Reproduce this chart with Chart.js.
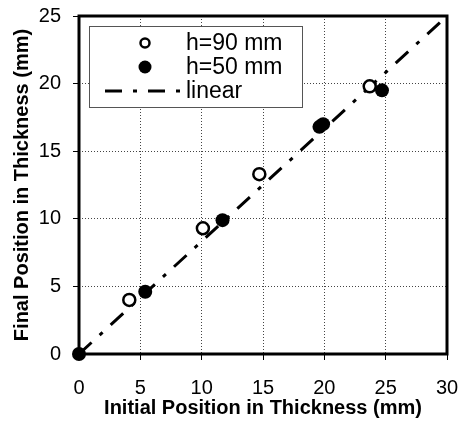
<!DOCTYPE html>
<html lang="en">
<head>
    <meta charset="UTF-8">
    <title>Final vs Initial Position</title>
    <script src="https://cdn.jsdelivr.net/npm/chart.js"></script>
    <style>
        body {
            margin: 0;
            padding: 0;
            background: #ffffff;
        }
        .wrap {
            width: 461px;
            height: 421px;
        }
    </style>
</head>
<body>
    <div class="wrap">
        <canvas id="posChart" width="461" height="421"></canvas>
    </div>

    <script>
        // h=90 mm (open circles)
        const h90X = [4.1, 10.1, 14.7, 23.7];
        const h90Y = [4.0, 9.3, 13.3, 19.8];
        // h=50 mm (filled circles)
        const h50X = [0, 5.4, 11.7, 19.6, 19.9, 24.7];
        const h50Y = [0, 4.6, 9.9, 16.8, 17.0, 19.5];
        // linear reference
        const linearX = [0, 30];
        const linearY = [0, 25];

        const xTicks = [0, 5, 10, 15, 20, 25, 30];
        const yTicks = [0, 5, 10, 15, 20, 25];

        const legendItems = ['h=90 mm', 'h=50 mm', 'linear'];

        const fontFam = "'Liberation Sans', Arial, Helvetica, sans-serif";
        const lineDash = [17, 11, 4, 11];

        function pts(xs, ys) {
            return xs.map((x, i) => ({ x: x, y: ys[i] }));
        }

        // thick frame + legend box
        const framePlugin = {
            id: 'frame',
            afterDraw(chart) {
                const c = chart.ctx;
                const a = chart.chartArea;
                c.save();
                c.strokeStyle = '#000';
                c.lineWidth = 3;
                c.strokeRect(a.left, a.top, a.right - a.left, a.bottom - a.top);

                // legend
                const lx = 89, ly = 26, lw = 213, lh = 81;
                c.fillStyle = '#fff';
                c.fillRect(lx, ly, lw, lh);
                c.lineWidth = 1;
                c.strokeStyle = '#555';
                c.strokeRect(lx + 0.5, ly + 0.5, lw, lh);

                const rows = [43, 67, 91];
                c.font = '23px ' + fontFam;
                c.fillStyle = '#000';
                c.textBaseline = 'middle';
                c.textAlign = 'left';

                // open circle
                c.beginPath();
                c.arc(145, rows[0], 4.5, 0, Math.PI * 2);
                c.fillStyle = '#fff';
                c.fill();
                c.lineWidth = 2.5;
                c.strokeStyle = '#000';
                c.stroke();
                // filled circle
                c.beginPath();
                c.arc(145, rows[1], 6.5, 0, Math.PI * 2);
                c.fillStyle = '#000';
                c.fill();
                // dash-dot line
                c.beginPath();
                c.setLineDash(lineDash);
                c.lineWidth = 3;
                c.moveTo(105, rows[2]);
                c.lineTo(183, rows[2]);
                c.stroke();
                c.setLineDash([]);

                c.fillStyle = '#000';
                c.fillText(legendItems[0], 186, rows[0] + 1);
                c.fillText(legendItems[1], 186, rows[1] + 1);
                c.fillText(legendItems[2], 186, rows[2] + 1);
                c.restore();
            }
        };

        const gridOpts = {
            color: '#444',
            lineWidth: 1,
            tickColor: '#000',
            tickLength: 6,
            tickBorderDash: []
        };

        const ctx = document.getElementById('posChart').getContext('2d');
        const posChart = new Chart(ctx, {
            type: 'scatter',
            data: {
                datasets: [
                    {
                        label: 'linear',
                        type: 'line',
                        data: pts(linearX, linearY),
                        borderColor: '#000',
                        borderWidth: 3,
                        borderDash: lineDash,
                        pointRadius: 0,
                        fill: false,
                        order: 3
                    },
                    {
                        label: legendItems[0],
                        data: pts(h90X, h90Y),
                        pointRadius: 6,
                        pointBorderWidth: 2.5,
                        pointBackgroundColor: '#fff',
                        pointBorderColor: '#000',
                        clip: false,
                        order: 2
                    },
                    {
                        label: legendItems[1],
                        data: pts(h50X, h50Y),
                        pointRadius: 7,
                        pointBorderWidth: 0,
                        pointBackgroundColor: '#000',
                        pointBorderColor: '#000',
                        clip: false,
                        order: 1
                    }
                ]
            },
            options: {
                responsive: false,
                animation: false,
                events: [],
                layout: { padding: { top: 16, right: 14, left: 0, bottom: 0 } },
                plugins: {
                    legend: { display: false },
                    tooltip: { enabled: false }
                },
                scales: {
                    x: {
                        type: 'linear',
                        min: 0,
                        max: 30,
                        afterFit(scale) {
                            scale.height = 67;
                            scale.paddingLeft = 0;
                            scale.paddingRight = 0;
                        },
                        afterBuildTicks(scale) { scale.ticks = xTicks.map(v => ({ value: v })); },
                        grid: gridOpts,
                        border: { display: false, dash: [1, 2] },
                        ticks: {
                            color: '#000',
                            padding: 16,
                            font: { family: fontFam, size: 20 }
                        },
                        title: {
                            display: true,
                            text: 'Initial Position in Thickness (mm)',
                            color: '#000',
                            padding: { top: 0, bottom: 1 },
                            font: { family: fontFam, size: 20, weight: 'bold' }
                        }
                    },
                    y: {
                        type: 'linear',
                        min: 0,
                        max: 25,
                        afterFit(scale) {
                            scale.width = 79;
                            scale.paddingTop = 0;
                            scale.paddingBottom = 0;
                        },
                        afterBuildTicks(scale) { scale.ticks = yTicks.map(v => ({ value: v })); },
                        grid: gridOpts,
                        border: { display: false, dash: [1, 2] },
                        ticks: {
                            color: '#000',
                            padding: 12,
                            font: { family: fontFam, size: 20 }
                        },
                        title: {
                            display: true,
                            text: 'Final Position in Thickness (mm)',
                            color: '#000',
                            padding: { top: 10, bottom: 0 },
                            font: { family: fontFam, size: 20, weight: 'bold' }
                        }
                    }
                }
            },
            plugins: [framePlugin]
        });
    </script>
</body>
</html>
